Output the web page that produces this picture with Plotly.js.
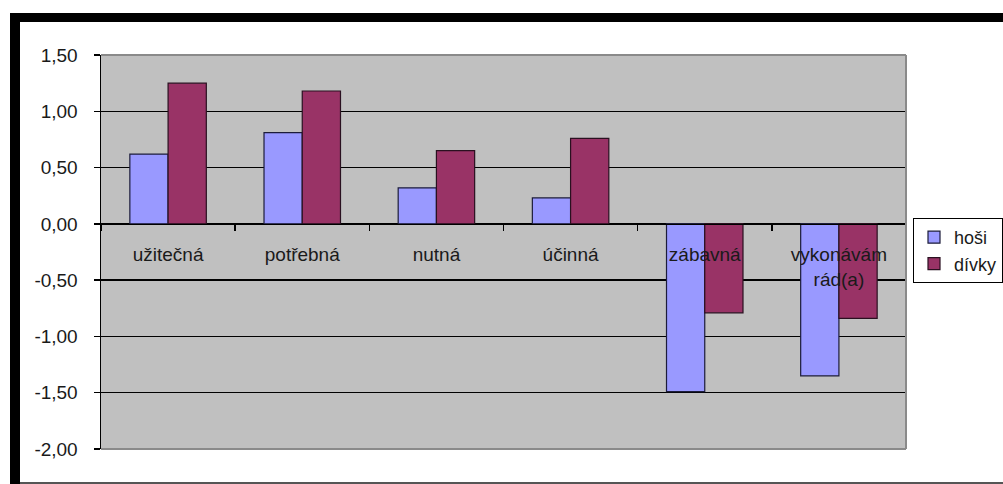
<!DOCTYPE html>
<html>
<head>
<meta charset="utf-8">
<script src="https://cdn.plot.ly/plotly-3.0.1.min.js"></script>
<style>html,body{margin:0;padding:0;background:#fff;overflow:hidden;}#chart{width:1003px;height:484px;}</style>
</head>
<body>
<div id="chart"></div>
<script>
// Data
var categories = ["užitečná", "potřebná", "nutná", "účinná", "zábavná", "vykonávám<br>rád(a)"];
var seriesNames = ["hoši", "dívky"];
var hosi = [0.62, 0.81, 0.32, 0.23, -1.49, -1.35];
var divky = [1.25, 1.18, 0.65, 0.76, -0.79, -0.84];
var yTickVals = [-2, -1.5, -1, -0.5, 0, 0.5, 1, 1.5];
var yTickText = yTickVals.map(function(v){ return v.toFixed(2).replace(".", ","); });

// Layout geometry (pixels)
var W = 1003, H = 484;
var L = 101, R = 906, T = 55, B = 449;
function px(x){ return (x - L) / (R - L); }
function py(y){ return (B - y) / (B - T); }

var FONT = "Liberation Sans, Arial, sans-serif";
var yMin = -2, yMax = 1.5;

var traces = [
  {type: "bar", name: seriesNames[0], x: categories, y: hosi,
   marker: {color: "#9999FF", line: {color: "#1c1c3a", width: 1.2}}},
  {type: "bar", name: seriesNames[1], x: categories, y: divky,
   marker: {color: "#993366", line: {color: "#2a1020", width: 1.2}}}
];

var layout = {
  width: W, height: H,
  margin: {l: L, r: W - R, t: T, b: H - B, pad: 0, autoexpand: false},
  paper_bgcolor: "#ffffff",
  plot_bgcolor: "#C0C0C0",
  separators: ", ",
  font: {family: FONT, size: 19, color: "#1a1a1a"},
  barmode: "group",
  bargap: 0.43,
  bargroupgap: 0,
  showlegend: true,
  legend: {
    x: px(913), y: py(218), xanchor: "left", yanchor: "top",
    bgcolor: "#ffffff", bordercolor: "#000000", borderwidth: 1,
    font: {family: FONT, size: 18, color: "#1a1a1a"},
    tracegroupgap: 0, itemwidth: 30
  },
  xaxis: {
    type: "category",
    anchor: "free",
    position: (0 - yMin) / (yMax - yMin),
    showline: true, linecolor: "#000000", linewidth: 1.5,
    ticks: "outside", ticklen: 6, tickcolor: "#000000", tickwidth: 1.5,
    tickson: "boundaries",
    showgrid: false,
    ticklabelstandoff: 13,
    tickfont: {family: FONT, size: 19, color: "#1a1a1a"},
    fixedrange: true
  },
  yaxis: {
    range: [yMin, yMax],
    tickvals: yTickVals,
    ticktext: yTickText,
    showline: true, linecolor: "#000000", linewidth: 1.5,
    ticks: "outside", ticklen: 6, tickcolor: "#000000", tickwidth: 1.5,
    showgrid: true, gridcolor: "#000000", gridwidth: 1.5,
    zeroline: false,
    ticklabelstandoff: 12,
    tickfont: {family: FONT, size: 19, color: "#1a1a1a"},
    fixedrange: true
  },
  shapes: [
    // plot area border (top, right, bottom) in gray
    {type: "line", xref: "paper", yref: "paper", x0: 0, x1: 1, y0: 1, y1: 1, line: {color: "#8a8a8a", width: 2}, layer: "above"},
    {type: "line", xref: "paper", yref: "paper", x0: 1, x1: 1, y0: 0, y1: 1, line: {color: "#8a8a8a", width: 2}, layer: "above"},
    {type: "line", xref: "paper", yref: "paper", x0: 0, x1: 1, y0: 0, y1: 0, line: {color: "#8a8a8a", width: 2}, layer: "above"},
    // black frame: top bar and left bar
    {type: "rect", xref: "paper", yref: "paper", x0: px(10), x1: px(1003), y0: py(22), y1: py(13), fillcolor: "#000000", line: {width: 0}, layer: "above"},
    {type: "rect", xref: "paper", yref: "paper", x0: px(10), x1: px(20), y0: py(484), y1: py(13), fillcolor: "#000000", line: {width: 0}, layer: "above"},
    // thin gray bottom line
    {type: "line", xref: "paper", yref: "paper", x0: px(20), x1: px(1003), y0: py(483), y1: py(483), line: {color: "#555555", width: 2}, layer: "above"}
  ]
};

Plotly.newPlot("chart", traces, layout, {displayModeBar: false, staticPlot: true});
</script>
</body>
</html>
